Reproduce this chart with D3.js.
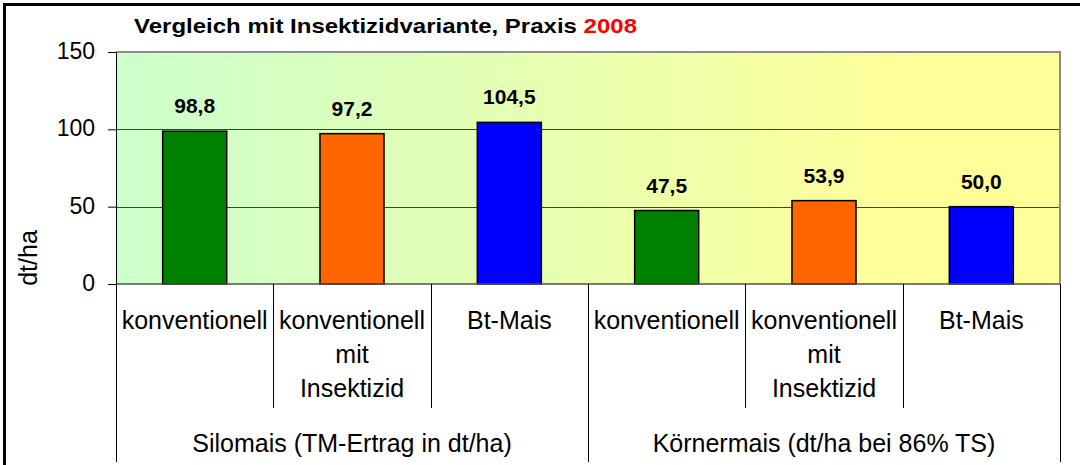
<!DOCTYPE html>
<html>
<head>
<meta charset="utf-8">
<script src="https://cdn.jsdelivr.net/npm/d3@7"></script>
<style>
    body { margin: 0; background: #ffffff; }
    text { font-family: Arial, "Liberation Sans", sans-serif; }
</style>
</head>
<body>
<svg id="chart" width="1080" height="465"></svg>
<script>
var width = 1080;
var height = 465;

// data
var categories = ["konventionell", "konventionell mit Insektizid", "Bt-Mais",
                  "konventionell", "konventionell mit Insektizid", "Bt-Mais"];
var categoryLines = [["konventionell"], ["konventionell", "mit", "Insektizid"], ["Bt-Mais"],
                     ["konventionell"], ["konventionell", "mit", "Insektizid"], ["Bt-Mais"]];
var values = [98.8, 97.2, 104.5, 47.5, 53.9, 50.0];
var groups = ["Silomais (TM-Ertrag in dt/ha)", "Körnermais (dt/ha bei 86% TS)"];
var yTicks = [0, 50, 100, 150];
var barColors = ["#008000", "#ff6600", "#0000ff", "#008000", "#ff6600", "#0000ff"];

var plot = {left: 116, right: 1060, top: 52, bottom: 284};

var svg = d3.select("#chart");

var x = d3.scaleBand()
    .domain(d3.range(categories.length))
    .range([plot.left, plot.right])
    .paddingInner(0)
    .paddingOuter(0);

var y = d3.scaleLinear()
    .domain([0, 150])
    .range([plot.bottom, plot.top]);

var barW = x.bandwidth() * 0.407;

// background gradient green -> yellow
var defs = svg.append("defs");
var grad = defs.append("linearGradient")
    .attr("id", "bg")
    .attr("x1", "0%").attr("x2", "100%")
    .attr("y1", "0%").attr("y2", "0%");
grad.append("stop").attr("offset", "0%").attr("stop-color", "#ccffcc");
grad.append("stop").attr("offset", "85%").attr("stop-color", "#ffff99");
grad.append("stop").attr("offset", "100%").attr("stop-color", "#ffff99");

// outer frame
svg.append("rect")
    .attr("x", 4.5).attr("y", 4.5)
    .attr("width", width + 20).attr("height", height + 20)
    .attr("fill", "#ffffff")
    .attr("stroke", "#000000")
    .attr("stroke-width", 3);

svg.append("rect")
    .attr("x", plot.left).attr("y", plot.top)
    .attr("width", plot.right - plot.left)
    .attr("height", plot.bottom - plot.top)
    .attr("fill", "url(#bg)");

// gridlines
svg.append("g")
    .selectAll("line")
    .data(yTicks.filter(function (d) { return d > 0 && d < 150; }))
    .enter().append("line")
    .attr("x1", plot.left).attr("x2", plot.right)
    .attr("y1", function (d) { return Math.round(y(d)) + 0.5; })
    .attr("y2", function (d) { return Math.round(y(d)) + 0.5; })
    .attr("stroke", "#404040")
    .attr("stroke-width", 1);

// plot border top / right
svg.append("path")
    .attr("d", "M" + plot.left + "," + plot.top + "H" + plot.right + "V" + plot.bottom)
    .attr("fill", "none")
    .attr("stroke", "#8c8c8c")
    .attr("stroke-width", 2);

// bars
svg.append("g")
    .selectAll("rect")
    .data(values)
    .enter().append("rect")
    .attr("x", function (d, i) { return x(i) + (x.bandwidth() - barW) / 2; })
    .attr("y", function (d) { return y(d); })
    .attr("width", barW)
    .attr("height", function (d) { return y(0) - y(d); })
    .attr("fill", function (d, i) { return barColors[i]; })
    .attr("stroke", "#000000")
    .attr("stroke-width", 1.5);

// value labels
svg.append("g")
    .selectAll("text")
    .data(values)
    .enter().append("text")
    .attr("x", function (d, i) { return x(i) + x.bandwidth() / 2; })
    .attr("y", function (d) { return y(d) - 18; })
    .attr("text-anchor", "middle")
    .attr("font-size", "21px")
    .attr("font-weight", "bold")
    .text(function (d) { return d.toFixed(1).replace(".", ","); });

// zero line
svg.append("line")
    .attr("x1", plot.left).attr("x2", plot.right)
    .attr("y1", y(0)).attr("y2", y(0))
    .attr("stroke", "#505050")
    .attr("stroke-width", 1.5);

// y axis
var yAxis = d3.axisLeft(y)
    .tickValues(yTicks)
    .tickSize(8)
    .tickPadding(13);

var yG = svg.append("g")
    .attr("transform", "translate(" + plot.left + ",0)")
    .call(yAxis);
yG.select(".domain").attr("stroke", "#000000");
yG.selectAll(".tick line").attr("stroke", "#000000");
yG.selectAll(".tick text")
    .attr("font-size", "23px")
    .attr("font-family", "Arial, 'Liberation Sans', sans-serif")
    .attr("fill", "#000000")
    .attr("dy", "0.28em");

// y axis title
svg.append("text")
    .attr("transform", "translate(37,258) rotate(-90)")
    .attr("text-anchor", "middle")
    .attr("font-size", "25px")
    .text("dt/ha");

// category separators
var sepX = d3.range(categories.length + 1).map(function (i) {
    return i < categories.length ? x(i) : plot.right;
});
svg.append("g")
    .selectAll("line")
    .data(sepX)
    .enter().append("line")
    .attr("x1", function (d) { return Math.round(d) + 0.5; })
    .attr("x2", function (d) { return Math.round(d) + 0.5; })
    .attr("y1", plot.bottom)
    .attr("y2", function (d, i) { return i % 3 === 0 ? 462 : 408; })
    .attr("stroke", "#000000")
    .attr("stroke-width", 1);

// category labels
var catText = svg.append("g")
    .selectAll("text")
    .data(categoryLines)
    .enter().append("text")
    .attr("text-anchor", "middle")
    .attr("font-size", "25px");
catText.selectAll("tspan")
    .data(function (d, i) { return d.map(function (t) { return {t: t, i: i}; }); })
    .enter().append("tspan")
    .attr("x", function (d) { return x(d.i) + x.bandwidth() / 2; })
    .attr("y", function (d, j) { return 329 + j * 34; })
    .text(function (d) { return d.t; });

// group labels
svg.append("g")
    .selectAll("text")
    .data(groups)
    .enter().append("text")
    .attr("x", function (d, i) { return (x(i * 3) + (i === 1 ? plot.right : x(3))) / 2; })
    .attr("y", 452)
    .attr("text-anchor", "middle")
    .attr("font-size", "25px")
    .text(function (d) { return d; });

// title (stretched a bit wider, like the original)
var title = svg.append("text")
    .attr("x", 134)
    .attr("y", 33)
    .attr("font-size", "21px")
    .attr("font-weight", "bold")
    .attr("textLength", 503)
    .attr("lengthAdjust", "spacingAndGlyphs");
title.append("tspan").text("Vergleich mit Insektizidvariante, Praxis ");
title.append("tspan").attr("fill", "#ff0000").text("2008");
</script>
</body>
</html>
